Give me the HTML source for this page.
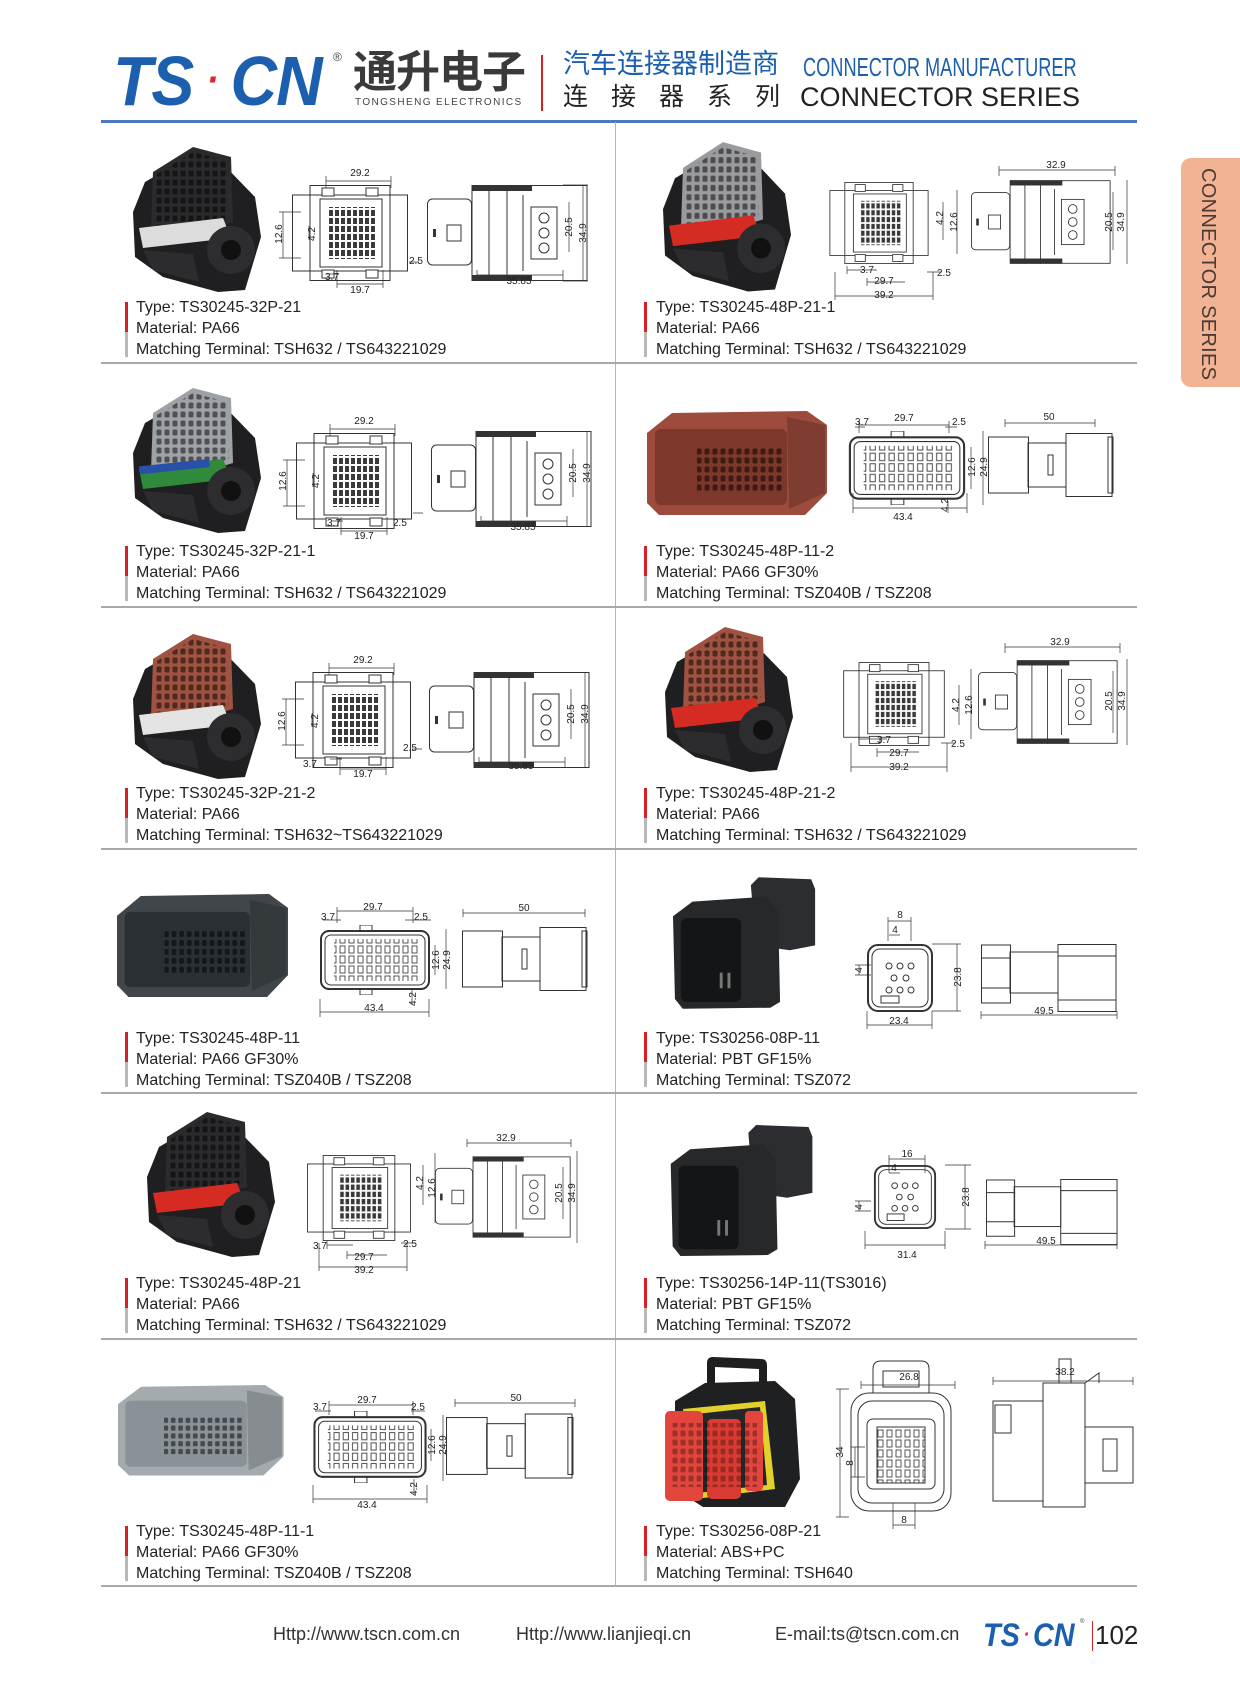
<!DOCTYPE html>
<html><head><meta charset="utf-8"><style>
*{margin:0;padding:0;box-sizing:border-box}
body{width:1240px;height:1683px;background:#fff;position:relative;overflow:hidden;font-family:"Liberation Sans",Arial,sans-serif;color:#222}
.a{position:absolute}
.t{position:absolute;font-size:16px;line-height:18px;white-space:nowrap;color:#222}
.rb{position:absolute;width:3px;background:#d71f26}
.gb{position:absolute;width:3px;background:#b8b8b8}
.hl{position:absolute;left:101px;width:1036px;height:2px;background:#a9a9a9}
svg text{font-family:"Liberation Sans",Arial,sans-serif;font-size:10px;fill:#222}
</style></head><body>
<svg width="0" height="0" style="position:absolute">
<defs>
<pattern id="pd" width="6" height="8" patternUnits="userSpaceOnUse"><rect x="1" y="1" width="4" height="6" fill="#3a3a3a"/></pattern>
<pattern id="ph" width="8" height="9" patternUnits="userSpaceOnUse"><rect x="1.5" y="1.5" width="5" height="6" rx="1.5" fill="rgba(0,0,0,.5)"/></pattern>
<pattern id="pp" width="9" height="10" patternUnits="userSpaceOnUse"><rect x="2" y="1" width="5" height="7" fill="none" stroke="#444" stroke-width=".9"/></pattern>
<symbol id="pAng" viewBox="0 0 140 150" width="140" height="150" overflow="visible">
<path d="M22,40 L60,18 L100,22 L132,55 L138,95 L122,148 L95,150 L40,135 L12,115 L10,70 Z" fill="#1f1f21"/>
<path d="M30,30 L70,5 L108,15 L110,80 L60,95 L28,88 Z" fill="var(--c1)"/>
<path d="M34,32 L70,10 L104,19 L106,76 L60,90 L32,84 Z" fill="url(#ph)"/>
<path d="M16,86 L100,76 L108,96 L20,106 Z" fill="var(--c2)"/>
<path d="M20,108 L70,112 L76,140 L30,128Z" fill="#2c2c2e"/>
<circle cx="108" cy="108" r="24" fill="#2d2d30"/><circle cx="108" cy="108" r="10" fill="#111"/>
</symbol>
<symbol id="pBox" viewBox="0 0 180 104" width="180" height="104" overflow="visible">
<path d="M0,22 L25,2 L160,0 L180,14 L180,82 L158,104 L12,104 L0,92Z" fill="var(--c1)"/>
<rect x="8" y="18" width="132" height="76" rx="6" fill="var(--c2)"/>
<rect x="50" y="36" width="86" height="44" fill="url(#ph)"/>
<path d="M140,6 L178,14 L178,82 L142,98Z" fill="rgba(0,0,0,.18)"/>
</symbol>
<symbol id="pSq" viewBox="0 0 150 135" width="150" height="135" overflow="visible">
<path d="M80,8 L88,0 L142,2 L146,12 L146,70 L120,75 L85,70Z" fill="#2b2d30"/>
<path d="M0,40 L20,25 L95,20 L108,35 L110,128 L100,134 L10,135 L2,125Z" fill="#26282a"/>
<rect x="8" y="42" width="62" height="86" rx="6" fill="#141516"/>
<rect x="48" y="98" width="3" height="16" fill="#777"/><rect x="56" y="98" width="3" height="16" fill="#777"/>
</symbol>
<symbol id="fA" viewBox="0 0 116 96" width="116" height="96">
<g fill="none" stroke="#333"><rect x="0.5" y="10" width="115" height="76"/><rect x="18" y="0.5" width="80" height="95"/><rect x="28" y="14" width="62" height="68"/></g>
<rect x="36" y="22" width="48" height="52" fill="url(#pd)"/>
<g stroke="#333" fill="#fff"><rect x="30" y="3" width="12" height="8"/><rect x="74" y="3" width="12" height="8"/><rect x="30" y="85" width="12" height="8"/><rect x="74" y="85" width="12" height="8"/></g>
</symbol>
<symbol id="sA" viewBox="0 0 161 96" width="161" height="96">
<g fill="none" stroke="#333"><rect x="0.5" y="14" width="44" height="66" rx="5"/><rect x="45" y="0.5" width="115" height="95"/><line x1="62" y1="0" x2="62" y2="96"/><line x1="80" y1="0" x2="80" y2="96"/><line x1="96" y1="10" x2="96" y2="86"/><rect x="104" y="22" width="26" height="52"/><circle cx="117" cy="33" r="5"/><circle cx="117" cy="48" r="5"/><circle cx="117" cy="63" r="5"/><rect x="20" y="40" width="14" height="16"/></g>
<rect x="45" y="0" width="60" height="6" fill="#333"/><rect x="45" y="90" width="60" height="6" fill="#333"/><rect x="6" y="44" width="3" height="8" fill="#333"/>
</symbol>
<symbol id="fC" viewBox="0 0 110 70" width="110" height="70">
<rect x="1" y="6" width="108" height="58" rx="8" fill="none" stroke="#333" stroke-width="2"/>
<rect x="5" y="10" width="100" height="50" rx="6" fill="none" stroke="#333"/>
<rect x="14" y="14" width="84" height="42" fill="url(#pp)"/>
<rect x="40" y="0" width="12" height="6" fill="none" stroke="#333"/><rect x="40" y="64" width="12" height="6" fill="none" stroke="#333"/>
</symbol>
<symbol id="sC" viewBox="0 0 126 64" width="126" height="64">
<g fill="none" stroke="#333"><rect x="0.5" y="4" width="40" height="56"/><rect x="40" y="10" width="38" height="44"/><rect x="78" y="0.5" width="46" height="63"/><rect x="120" y="4" width="5" height="56"/><rect x="60" y="22" width="5" height="20"/></g>
</symbol>
<symbol id="fD" viewBox="0 0 66 68" width="66" height="68">
<rect x="1" y="1" width="64" height="66" rx="10" fill="none" stroke="#333" stroke-width="2"/>
<rect x="5" y="5" width="56" height="58" rx="8" fill="none" stroke="#333"/>
<g fill="none" stroke="#333"><circle cx="22" cy="22" r="3"/><circle cx="33" cy="22" r="3"/><circle cx="44" cy="22" r="3"/><circle cx="27" cy="34" r="3"/><circle cx="39" cy="34" r="3"/><circle cx="22" cy="46" r="3"/><circle cx="33" cy="46" r="3"/><circle cx="44" cy="46" r="3"/><rect x="14" y="52" width="18" height="7"/></g>
</symbol>
<symbol id="sD" viewBox="0 0 136 68" width="136" height="68">
<g fill="none" stroke="#333"><rect x="0.5" y="1" width="29" height="58"/><rect x="29" y="8" width="48" height="41"/><rect x="77" y="0.5" width="58" height="67"/><line x1="0" y1="14" x2="30" y2="14"/><line x1="0" y1="44" x2="30" y2="44"/><line x1="77" y1="12" x2="135" y2="12"/><line x1="77" y1="56" x2="135" y2="56"/></g>
</symbol>
</defs></svg>

<!-- header -->
<div class="a" style="left:113px;top:44px;font-size:70px;font-weight:bold;font-style:italic;color:#1b5fae;letter-spacing:-1px;transform:scaleX(.92);transform-origin:left;white-space:nowrap;line-height:72px">TS<span style="color:#e0262b;font-size:40px;vertical-align:12px;margin:0 14px">·</span>CN</div>
<div class="a" style="left:333px;top:50px;font-size:12px;color:#444">®</div>
<div class="a" style="left:353px;top:48px;font-size:44px;font-weight:bold;color:#3a3a3a;font-family:'Liberation Sans','Noto Sans CJK SC',sans-serif;line-height:50px;letter-spacing:-1px">通升电子</div>
<div class="a" style="left:355px;top:97px;font-size:10px;color:#444;letter-spacing:1.4px;white-space:nowrap">TONGSHENG ELECTRONICS</div>
<div class="a" style="left:541px;top:55px;width:2px;height:56px;background:#d71f26"></div>
<div class="a" style="left:563px;top:47px;font-size:27px;color:#1b5fae;font-family:'Liberation Sans','Noto Sans CJK SC',sans-serif;line-height:34px;white-space:nowrap">汽车连接器制造商</div>
<div class="a" style="left:803px;top:53px;font-size:26px;color:#1b5fae;transform:scaleX(.7);transform-origin:left;white-space:nowrap;line-height:28px">CONNECTOR MANUFACTURER</div>
<div class="a" style="left:563px;top:81px;font-size:25px;color:#222;font-family:'Liberation Sans','Noto Sans CJK SC',sans-serif;letter-spacing:23px;line-height:32px;white-space:nowrap">连接器系列</div>
<div class="a" style="left:800px;top:82px;font-size:27px;color:#222;white-space:nowrap;line-height:30px">CONNECTOR SERIES</div>
<div class="a" style="left:101px;top:120px;width:1036px;height:3px;background:#4a79c4"></div>

<!-- side tab -->
<div class="a" style="left:1181px;top:158px;width:59px;height:229px;background:#f1b394;border-radius:10px 0 0 10px"></div>
<div class="a" style="left:1196px;top:168px;writing-mode:vertical-rl;font-size:20px;color:#4a3a33;white-space:nowrap;letter-spacing:.3px">CONNECTOR SERIES</div>

<!-- grid lines -->
<div class="a" style="left:615px;top:122px;width:1px;height:1465px;background:#b5b5b5"></div>
<div class="hl" style="top:362px"></div><div class="hl" style="top:606px"></div><div class="hl" style="top:848px"></div><div class="hl" style="top:1092px"></div><div class="hl" style="top:1338px"></div><div class="hl" style="top:1585px"></div>

<!-- ROW 1 -->
<svg class="a" style="left:101px;top:122px" width="514" height="244">
<use href="#pAng" x="22" y="20" style="--c1:#2b2b2d;--c2:#dcdcdc"/>
<use href="#fA" x="191" y="63"/><use href="#sA" x="326" y="63"/>
<path d="M225,59H290M225,54V66M290,54V66M182,90V136M178,90H200M178,136H200M208,104V118M308,140H318M226,152H238M236,162H282M236,148V166M282,148V166M376,153H462M376,148V158M462,148V158M468,80V130M482,63V159M462,63H487M462,159H487" stroke="#333" stroke-width=".7" fill="none"/>
<text x="259" y="54" text-anchor="middle">29.2</text><text transform="translate(181,112) rotate(-90)" text-anchor="middle">12.6</text><text transform="translate(214,112) rotate(-90)" text-anchor="middle">4.2</text>
<text x="308" y="142">2.5</text><text x="224" y="158">3.7</text><text x="259" y="171" text-anchor="middle">19.7</text><text x="418" y="162" text-anchor="middle">35.85</text>
<text transform="translate(471,105) rotate(-90)" text-anchor="middle">20.5</text><text transform="translate(485,111) rotate(-90)" text-anchor="middle">34.9</text>
</svg>
<svg class="a" style="left:615px;top:122px" width="522" height="244">
<use href="#pAng" x="38" y="15" style="--c1:#9a9b9e;--c2:#d52b22" transform="translate(38,15) scale(1,1.03) translate(-38,-15)"/>
<use href="#fA" x="200" y="60" width="128" height="82"/><use href="#sA" x="356" y="58" width="140" height="84"/>
<path d="M328,80V118M342,68V132M232,148H262M232,144V152M252,160H290M252,156V164M220,174H318M220,150V178M318,150V178M312,150H326M384,48H500M384,44V54M500,44V54M498,70V128M512,58V142" stroke="#333" stroke-width=".7" fill="none"/>
<text x="441" y="46" text-anchor="middle">32.9</text><text transform="translate(328,96) rotate(-90)" text-anchor="middle">4.2</text><text transform="translate(342,100) rotate(-90)" text-anchor="middle">12.6</text>
<text x="245" y="151">3.7</text><text x="269" y="162" text-anchor="middle">29.7</text><text x="269" y="176" text-anchor="middle">39.2</text><text x="322" y="154">2.5</text>
<text transform="translate(497,100) rotate(-90)" text-anchor="middle">20.5</text><text transform="translate(509,100) rotate(-90)" text-anchor="middle">34.9</text>
</svg>

<!-- ROW 2 -->
<svg class="a" style="left:101px;top:363px" width="514" height="244">
<use href="#pAng" x="22" y="20" style="--c1:#9ea1a6;--c2:#2f8a3c"/>
<rect x="38" y="100" width="70" height="8" fill="#2a4fa8" transform="rotate(-6 70 100)"/>
<use href="#fA" x="195" y="70"/><use href="#sA" x="330" y="68"/>
<path d="M229,66H294M229,61V73M294,61V73M186,97V143M182,97H204M182,143H204M212,110V124M312,150H322M230,158H242M240,168H286M240,154V172M286,154V172M380,158H466M380,153V163M466,153V163M472,86V134M486,68V164" stroke="#333" stroke-width=".7" fill="none"/>
<text x="263" y="61" text-anchor="middle">29.2</text><text transform="translate(185,118) rotate(-90)" text-anchor="middle">12.6</text><text transform="translate(218,118) rotate(-90)" text-anchor="middle">4.2</text>
<text x="292" y="163">2.5</text><text x="226" y="163">3.7</text><text x="263" y="176" text-anchor="middle">19.7</text><text x="422" y="167" text-anchor="middle">35.85</text>
<text transform="translate(475,110) rotate(-90)" text-anchor="middle">20.5</text><text transform="translate(489,110) rotate(-90)" text-anchor="middle">34.9</text>
</svg>
<svg class="a" style="left:615px;top:363px" width="522" height="244">
<use href="#pBox" x="32" y="48" style="--c1:#9c4b3d;--c2:#7e372b"/>
<use href="#fC" x="233" y="68" width="118" height="74"/><use href="#sC" x="373" y="70"/>
<path d="M244,62H334M244,58V70M334,58V70M240,64H250M330,64H342M356,84V126M368,68V142M238,145H352M238,130V150M352,130V150M390,60H480M390,56V64M480,56V64M333,138V150" stroke="#333" stroke-width=".7" fill="none"/>
<text x="289" y="58" text-anchor="middle">29.7</text><text x="240" y="62">3.7</text><text x="337" y="62">2.5</text><text x="434" y="57" text-anchor="middle">50</text>
<text transform="translate(360,104) rotate(-90)" text-anchor="middle">12.6</text><text transform="translate(372,104) rotate(-90)" text-anchor="middle">24.9</text>
<text x="288" y="157" text-anchor="middle">43.4</text><text transform="translate(333,142) rotate(-90)" text-anchor="middle">4.2</text>
</svg>

<!-- ROW 3 -->
<svg class="a" style="left:101px;top:607px" width="514" height="244">
<use href="#pAng" x="22" y="22" style="--c1:#9f5340;--c2:#e4e4e4"/>
<use href="#fA" x="194" y="65"/><use href="#sA" x="328" y="65"/>
<path d="M228,61H293M228,56V68M293,56V68M185,92V138M181,92H203M181,138H203M211,106V120M311,142H321M229,152H241M239,162H285M239,150V168M285,150V168M378,155H464M378,150V160M464,150V160M470,82V132M484,65V161" stroke="#333" stroke-width=".7" fill="none"/>
<text x="262" y="56" text-anchor="middle">29.2</text><text transform="translate(184,114) rotate(-90)" text-anchor="middle">12.6</text><text transform="translate(217,114) rotate(-90)" text-anchor="middle">4.2</text>
<text x="302" y="144">2.5</text><text x="202" y="160">3.7</text><text x="262" y="170" text-anchor="middle">19.7</text><text x="420" y="162" text-anchor="middle">35.85</text>
<text transform="translate(473,107) rotate(-90)" text-anchor="middle">20.5</text><text transform="translate(487,107) rotate(-90)" text-anchor="middle">34.9</text>
</svg>
<svg class="a" style="left:615px;top:607px" width="522" height="244">
<use href="#pAng" x="40" y="15" style="--c1:#9f5340;--c2:#d52b22"/>
<use href="#fA" x="215" y="55" width="128" height="84"/><use href="#sA" x="363" y="52" width="140" height="86"/>
<path d="M344,78V118M356,62V132M244,132H272M244,128V136M262,145H304M262,141V150M236,160H332M236,136V165M332,136V165M326,136H340M390,40H505M390,36V46M505,36V46M498,64V126M512,52V138" stroke="#333" stroke-width=".7" fill="none"/>
<text x="445" y="38" text-anchor="middle">32.9</text><text transform="translate(344,98) rotate(-90)" text-anchor="middle">4.2</text><text transform="translate(357,98) rotate(-90)" text-anchor="middle">12.6</text>
<text x="262" y="136">3.7</text><text x="284" y="149" text-anchor="middle">29.7</text><text x="284" y="163" text-anchor="middle">39.2</text><text x="336" y="140">2.5</text>
<text transform="translate(497,94) rotate(-90)" text-anchor="middle">20.5</text><text transform="translate(510,94) rotate(-90)" text-anchor="middle">34.9</text>
</svg>

<!-- ROW 4 -->
<svg class="a" style="left:101px;top:849px" width="514" height="244">
<use href="#pBox" x="16" y="45" style="--c1:#40464a;--c2:#2b3034" transform="translate(16,45) scale(.95,.99) translate(-16,-45)"/>
<use href="#fC" x="219" y="76" width="110" height="70"/><use href="#sC" x="361" y="78"/>
<path d="M236,62H312M236,58V74M312,58V74M222,71H240M304,71H330M334,96V126M345,80V140M219,163H328M219,150V168M328,150V168M362,64H484M362,60V68M484,60V68M311,140V156" stroke="#333" stroke-width=".7" fill="none"/>
<text x="272" y="61" text-anchor="middle">29.7</text><text x="220" y="71">3.7</text><text x="313" y="71">2.5</text><text x="423" y="62" text-anchor="middle">50</text>
<text transform="translate(338,111) rotate(-90)" text-anchor="middle">12.6</text><text transform="translate(349,111) rotate(-90)" text-anchor="middle">24.9</text>
<text x="273" y="162" text-anchor="middle">43.4</text><text transform="translate(315,150) rotate(-90)" text-anchor="middle">4.2</text>
</svg>
<svg class="a" style="left:615px;top:849px" width="522" height="244">
<use href="#pSq" x="58" y="27" width="146" height="134"/>
<use href="#fD" x="252" y="95"/><use href="#sD" x="366" y="95"/>
<path d="M273,72H296M273,68V92M296,68V92M274,86H285M244,116V126M240,116H256M240,126H256M317,95H346M317,162H346M342,95V162M252,176H317M252,162V180M317,162V180M366,166H502M366,162V170M502,162V170" stroke="#333" stroke-width=".7" fill="none"/>
<text x="285" y="69" text-anchor="middle">8</text><text x="280" y="84" text-anchor="middle">4</text><text transform="translate(247,121) rotate(-90)" text-anchor="middle">4</text>
<text transform="translate(346,128) rotate(-90)" text-anchor="middle">23.8</text><text x="284" y="175" text-anchor="middle">23.4</text><text x="429" y="165" text-anchor="middle">49.5</text>
</svg>

<!-- ROW 5 -->
<svg class="a" style="left:101px;top:1093px" width="514" height="244">
<use href="#pAng" x="36" y="14" style="--c1:#2b2b2d;--c2:#d52b22"/>
<use href="#fA" x="195" y="62" width="126" height="86"/><use href="#sA" x="334" y="58" width="136" height="92"/>
<path d="M322,72V112M334,60V130M226,152H252M226,148V156M246,162H286M246,158V166M218,174H306M218,150V178M306,150V178M300,150H314M366,50H470M366,46V54M470,46V54M462,74V126M476,58V150" stroke="#333" stroke-width=".7" fill="none"/>
<text x="405" y="48" text-anchor="middle">32.9</text><text transform="translate(322,90) rotate(-90)" text-anchor="middle">4.2</text><text transform="translate(334,95) rotate(-90)" text-anchor="middle">12.6</text>
<text x="212" y="156">3.7</text><text x="263" y="167" text-anchor="middle">29.7</text><text x="263" y="180" text-anchor="middle">39.2</text><text x="302" y="154">2.5</text>
<text transform="translate(461,100) rotate(-90)" text-anchor="middle">20.5</text><text transform="translate(474,100) rotate(-90)" text-anchor="middle">34.9</text>
</svg>
<svg class="a" style="left:615px;top:1093px" width="522" height="244">
<use href="#pSq" x="51" y="32" width="155" height="131"/>
<use href="#fD" x="250" y="72" width="80" height="64"/><use href="#sD" x="370" y="86" width="134" height="66"/>
<path d="M274,66H310M274,62V80M310,62V80M274,80H285M244,108V118M240,108H256M240,118H256M330,72H356M330,136H356M350,72V136M250,152H330M250,138V156M330,138V156M370,152H502M370,148V156M502,148V156" stroke="#333" stroke-width=".7" fill="none"/>
<text x="292" y="64" text-anchor="middle">16</text><text x="279" y="78" text-anchor="middle">4</text><text transform="translate(247,114) rotate(-90)" text-anchor="middle">4</text>
<text transform="translate(354,104) rotate(-90)" text-anchor="middle">23.8</text><text x="292" y="165" text-anchor="middle">31.4</text><text x="431" y="151" text-anchor="middle">49.5</text>
</svg>

<!-- ROW 6 -->
<svg class="a" style="left:101px;top:1339px" width="514" height="244">
<use href="#pBox" x="17" y="46" style="--c1:#a4abaf;--c2:#8a9297" transform="translate(17,46) scale(.92,.87) translate(-17,-46)"/>
<use href="#fC" x="212" y="72" width="114" height="72"/><use href="#sC" x="345" y="74" width="128" height="66"/>
<path d="M228,66H312M228,62V76M312,62V76M214,72H230M310,72H324M330,90V122M342,76V142M212,160H326M212,146V164M326,146V164M354,64H474M354,60V68M474,60V68M313,140V156" stroke="#333" stroke-width=".7" fill="none"/>
<text x="266" y="64" text-anchor="middle">29.7</text><text x="212" y="71">3.7</text><text x="310" y="71">2.5</text><text x="415" y="62" text-anchor="middle">50</text>
<text transform="translate(334,106) rotate(-90)" text-anchor="middle">12.6</text><text transform="translate(345,106) rotate(-90)" text-anchor="middle">24.9</text>
<text x="266" y="169" text-anchor="middle">43.4</text><text transform="translate(316,150) rotate(-90)" text-anchor="middle">4.2</text>
</svg>
<svg class="a" style="left:615px;top:1339px" width="522" height="244">
<path d="M92,24 Q92,18 98,18 L146,20 Q152,20 152,26 L152,52 L144,52 L144,30 L100,28 L100,50 L92,50Z" fill="#1e1e1f"/>
<path d="M60,62 L90,44 L160,42 L180,60 L185,140 L170,168 L88,168 L60,150Z" fill="#1f2022"/>
<path d="M68,70 L150,62 L160,150 L80,160Z" fill="#e3d12b"/>
<path d="M72,76 L145,68 L152,146 L82,154Z" fill="#262628"/>
<rect x="50" y="72" width="38" height="90" rx="5" fill="#e2453b"/><rect x="92" y="80" width="34" height="80" rx="5" fill="#d93b32"/><rect x="130" y="72" width="18" height="80" rx="4" fill="#e2453b"/>
<rect x="56" y="84" width="86" height="64" fill="url(#ph)" opacity=".6"/>
<g fill="none" stroke="#333"><rect x="236" y="54" width="100" height="118" rx="18"/><rect x="243" y="62" width="86" height="102" rx="14"/><path d="M258,54V30Q258,22 266,22H306Q314,22 314,30V54"/><rect x="268" y="32" width="36" height="16"/><rect x="252" y="80" width="68" height="70" rx="6"/><rect x="262" y="88" width="48" height="56" fill="url(#pp)"/>
<rect x="378" y="62" width="50" height="100"/><rect x="428" y="44" width="42" height="124"/><rect x="470" y="88" width="48" height="56"/><rect x="444" y="20" width="12" height="24"/><rect x="380" y="66" width="16" height="28"/><rect x="488" y="100" width="14" height="32"/><path d="M470,44 L484,34 L484,44"/></g>
<path d="M246,46H340M246,42V50M340,42V50M225,50V178M221,50H234M221,178H234M240,108V138M236,108H250M236,138H250M278,164V190M300,164V190M278,186H300M378,42H518M378,38V46M518,38V46" stroke="#333" stroke-width=".7" fill="none"/>
<text x="294" y="41" text-anchor="middle">26.8</text><text transform="translate(228,113) rotate(-90)" text-anchor="middle">34</text><text transform="translate(238,124) rotate(-90)" text-anchor="middle">8</text>
<text x="289" y="184" text-anchor="middle">8</text><text x="450" y="36" text-anchor="middle">38.2</text>
</svg>

<!-- Text blocks -->
<div class="rb" style="left:125px;top:302px;height:30px"></div><div class="gb" style="left:125px;top:332px;height:25px"></div>
<div class="t" style="left:136px;top:299px">Type: TS30245-32P-21</div><div class="t" style="left:136px;top:320px">Material: PA66</div><div class="t" style="left:136px;top:341px">Matching Terminal: TSH632 / TS643221029</div>
<div class="rb" style="left:644px;top:302px;height:30px"></div><div class="gb" style="left:644px;top:332px;height:25px"></div>
<div class="t" style="left:656px;top:299px">Type: TS30245-48P-21-1</div><div class="t" style="left:656px;top:320px">Material: PA66</div><div class="t" style="left:656px;top:341px">Matching Terminal: TSH632 / TS643221029</div>

<div class="rb" style="left:125px;top:546px;height:30px"></div><div class="gb" style="left:125px;top:576px;height:25px"></div>
<div class="t" style="left:136px;top:543px">Type: TS30245-32P-21-1</div><div class="t" style="left:136px;top:564px">Material: PA66</div><div class="t" style="left:136px;top:585px">Matching Terminal: TSH632 / TS643221029</div>
<div class="rb" style="left:644px;top:546px;height:30px"></div><div class="gb" style="left:644px;top:576px;height:25px"></div>
<div class="t" style="left:656px;top:543px">Type: TS30245-48P-11-2</div><div class="t" style="left:656px;top:564px">Material: PA66 GF30%</div><div class="t" style="left:656px;top:585px">Matching Terminal: TSZ040B / TSZ208</div>

<div class="rb" style="left:125px;top:788px;height:30px"></div><div class="gb" style="left:125px;top:818px;height:25px"></div>
<div class="t" style="left:136px;top:785px">Type: TS30245-32P-21-2</div><div class="t" style="left:136px;top:806px">Material: PA66</div><div class="t" style="left:136px;top:827px">Matching Terminal: TSH632~TS643221029</div>
<div class="rb" style="left:644px;top:788px;height:30px"></div><div class="gb" style="left:644px;top:818px;height:25px"></div>
<div class="t" style="left:656px;top:785px">Type: TS30245-48P-21-2</div><div class="t" style="left:656px;top:806px">Material: PA66</div><div class="t" style="left:656px;top:827px">Matching Terminal: TSH632 / TS643221029</div>

<div class="rb" style="left:125px;top:1032px;height:30px"></div><div class="gb" style="left:125px;top:1062px;height:25px"></div>
<div class="t" style="left:136px;top:1030px">Type: TS30245-48P-11</div><div class="t" style="left:136px;top:1051px">Material: PA66 GF30%</div><div class="t" style="left:136px;top:1072px">Matching Terminal: TSZ040B / TSZ208</div>
<div class="rb" style="left:644px;top:1032px;height:30px"></div><div class="gb" style="left:644px;top:1062px;height:25px"></div>
<div class="t" style="left:656px;top:1030px">Type: TS30256-08P-11</div><div class="t" style="left:656px;top:1051px">Material: PBT GF15%</div><div class="t" style="left:656px;top:1072px">Matching Terminal: TSZ072</div>

<div class="rb" style="left:125px;top:1278px;height:30px"></div><div class="gb" style="left:125px;top:1308px;height:25px"></div>
<div class="t" style="left:136px;top:1275px">Type: TS30245-48P-21</div><div class="t" style="left:136px;top:1296px">Material: PA66</div><div class="t" style="left:136px;top:1317px">Matching Terminal: TSH632 / TS643221029</div>
<div class="rb" style="left:644px;top:1278px;height:30px"></div><div class="gb" style="left:644px;top:1308px;height:25px"></div>
<div class="t" style="left:656px;top:1275px">Type: TS30256-14P-11(TS3016)</div><div class="t" style="left:656px;top:1296px">Material: PBT GF15%</div><div class="t" style="left:656px;top:1317px">Matching Terminal: TSZ072</div>

<div class="rb" style="left:125px;top:1526px;height:30px"></div><div class="gb" style="left:125px;top:1556px;height:25px"></div>
<div class="t" style="left:136px;top:1523px">Type: TS30245-48P-11-1</div><div class="t" style="left:136px;top:1544px">Material: PA66 GF30%</div><div class="t" style="left:136px;top:1565px">Matching Terminal: TSZ040B / TSZ208</div>
<div class="rb" style="left:644px;top:1526px;height:30px"></div><div class="gb" style="left:644px;top:1556px;height:25px"></div>
<div class="t" style="left:656px;top:1523px">Type: TS30256-08P-21</div><div class="t" style="left:656px;top:1544px">Material: ABS+PC</div><div class="t" style="left:656px;top:1565px">Matching Terminal: TSH640</div>

<!-- footer -->
<div class="a" style="left:273px;top:1624px;font-size:18px;color:#333;white-space:nowrap">Http://www.tscn.com.cn</div>
<div class="a" style="left:516px;top:1624px;font-size:18px;color:#333;white-space:nowrap">Http://www.lianjieqi.cn</div>
<div class="a" style="left:775px;top:1624px;font-size:18px;color:#333;white-space:nowrap">E-mail:ts@tscn.com.cn</div>
<div class="a" style="left:983px;top:1618px;font-size:32px;font-weight:bold;font-style:italic;color:#1b5fae;transform:scaleX(.9);transform-origin:left;white-space:nowrap;line-height:34px">TS<span style="color:#e0262b;font-size:20px;vertical-align:5px;margin:0 4px">·</span>CN</div>
<div class="a" style="left:1080px;top:1619px;font-size:6px;color:#444">®</div>
<div class="a" style="left:1092px;top:1621px;width:1px;height:30px;background:#d71f26"></div>
<div class="a" style="left:1095px;top:1620px;font-size:26px;color:#222;line-height:30px">102</div>
</body></html>
